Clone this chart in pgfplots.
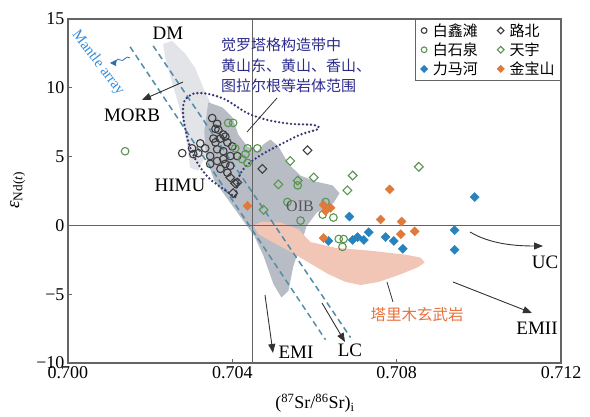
\documentclass[border=0pt]{standalone}
\usepackage{pgfplots}
\pgfplotsset{compat=1.18}
\usepackage{fontspec}
\setmainfont{Liberation Serif}
\newfontfamily\cjk{Noto Sans CJK SC}
\usetikzlibrary{arrows.meta}
\definecolor{axgray}{RGB}{100,100,100}
\definecolor{lgfield}{RGB}{226,228,232}
\definecolor{dgfield}{RGB}{184,188,197}
\definecolor{pinkf}{RGB}{242,198,182}
\definecolor{navy}{RGB}{43,43,140}
\definecolor{dotc}{RGB}{55,55,120}
\definecolor{dashc}{RGB}{82,140,168}
\definecolor{ptblue}{RGB}{40,130,190}
\definecolor{ptorange}{RGB}{224,122,58}
\definecolor{ptgreen}{RGB}{88,150,78}
\definecolor{ptblack}{RGB}{60,60,60}
\definecolor{mantlec}{RGB}{50,140,220}
\definecolor{tarimc}{RGB}{232,112,60}
\definecolor{arrc}{RGB}{50,50,50}
\begin{document}
\begin{tikzpicture}
\useasboundingbox (0,0) rectangle (590pt,417pt);
\begin{axis}[name=ax, at={(68pt,54pt)}, anchor=south west,
  scale only axis, width=493pt, height=344pt,
  xmin=0.700, xmax=0.712, ymin=-10, ymax=15,
  xtick={0.700,0.704,0.708,0.712}, xticklabels={0.700,0.704,0.708,0.712},
  ytick={-10,-5,0,5,10,15}, yticklabels={−10,−5,0,5,10,15},
  tick align=inside, tick pos=left, major tick length=4pt,
  tick style={draw=axgray, line width=0.8pt},
  axis line style={draw=axgray, line width=1.1pt},
  ticklabel style={font=\fontsize{18}{20}\selectfont},
  clip=false,
  xlabel={(\textsuperscript{87}Sr/\textsuperscript{86}Sr)\textsubscript{i}},
  ylabel={\textit{ε}\textsubscript{Nd(\textit{t})}},
  xlabel style={at={(axis description cs:0.501,-0.118)}, anchor=center, font=\fontsize{18}{20}\selectfont},
  ylabel style={at={(axis description cs:-0.102,0.503)}, anchor=center, font=\fontsize{19}{20}\selectfont},
  legend columns=2,
  legend cell align=left,
  legend style={at={(1,1)}, anchor=north east, draw=axgray, line width=0.9pt, fill=white,
    font=\cjk\fontsize{15}{16}\selectfont, row sep=1pt, inner xsep=4pt, inner ysep=2pt,
    /tikz/every even column/.append style={column sep=16pt}},
  legend image code/.code={\path (-0.05cm,0cm) (0.32cm,0cm);\draw[#1,/tikz/every mark/.append style={scale=0.75}] plot coordinates {(0.1cm,0cm)};},
]
% fields
\addplot[fill=lgfield, draw=none, forget plot] coordinates {
(0.702317,13.19) (0.702537,13.40) (0.702854,12.48) (0.703098,11.42) (0.703293,10.0) (0.703463,8.94) (0.703585,7.16) (0.703341,5.04) (0.703171,3.97) (0.702976,4.18) (0.702902,5.74) (0.702780,7.87) (0.702537,10.35) (0.702366,12.13)} -- cycle;
\addplot[fill=dgfield, draw=none, forget plot] coordinates {
(0.703415,8.94) (0.703756,8.58) (0.704000,7.87) (0.704146,6.60) (0.704366,5.74) (0.704610,5.39) (0.704756,5.89) (0.704927,6.24) (0.705122,5.74) (0.705366,4.47) (0.705659,3.62) (0.706024,3.19) (0.706439,2.91) (0.706610,2.34) (0.706463,1.63) (0.706049,0.92) (0.705805,-0.07) (0.705659,-1.49) (0.705488,-2.91) (0.705366,-4.75) (0.705195,-5.24) (0.705000,-4.26) (0.704756,-2.20) (0.704537,-0.78) (0.704244,0.43) (0.703902,1.84) (0.703561,3.26) (0.703366,4.89) (0.703317,6.81)} -- cycle;
\addplot[fill=pinkf, draw=none, forget plot] coordinates {
(0.704512,0) (0.704732,0.28) (0.705171,0.21) (0.705610,-0.28) (0.705902,-1.21) (0.706512,-1.63) (0.707366,-1.84) (0.708220,-2.13) (0.708585,-2.34) (0.708683,-2.70) (0.708512,-3.05) (0.708098,-3.55) (0.707561,-4.11) (0.707122,-4.33) (0.706756,-4.11) (0.706341,-3.55) (0.705902,-2.77) (0.705415,-1.91) (0.704976,-1.21) (0.704634,-0.64)} -- cycle;
% reference lines
\addplot[draw=axgray, line width=1pt, forget plot] coordinates {(0.7045,-10) (0.7045,15)};
\addplot[draw=axgray, line width=1pt, forget plot] coordinates {(0.700,0) (0.712,0)};
% mantle array
\addplot[draw=dashc, line width=1.5pt, dash pattern=on 6pt off 4pt, forget plot] coordinates {(0.701512,12.98) (0.706268,-8.31)};
\addplot[draw=dashc, line width=1.5pt, dash pattern=on 6pt off 4pt, forget plot] coordinates {(0.702073,13.05) (0.706878,-8.15)};
% dotted field
\addplot[draw=dotc, line width=2.6pt, dash pattern=on 0pt off 4pt, line cap=round, smooth, tension=0.5, forget plot] coordinates {
(0.704073,2.06) (0.703756,2.70) (0.703415,3.48) (0.703122,4.68) (0.702927,6.10) (0.702805,7.87) (0.702829,9.01) (0.703049,9.57) (0.703390,9.57) (0.703829,9.15) (0.704366,8.16) (0.704854,7.66) (0.705415,7.38) (0.705976,7.30) (0.706098,7.02) (0.705659,6.60) (0.705220,5.96) (0.704732,5.18) (0.704390,4.47) (0.704195,3.76) (0.704122,2.91) (0.704073,2.06)};
% data
\addplot[only marks, mark=o, mark size=3.8pt, color=ptblack, line width=1.1pt] coordinates {
(0.70351,7.80) (0.70363,7.38) (0.70366,6.95) (0.70354,6.31) (0.70371,6.31) (0.70383,6.45) (0.70388,6.03) (0.70322,5.96) (0.70334,5.60) (0.70302,5.60) (0.70278,5.25) (0.70305,5.18) (0.70317,5.25) (0.70346,5.04) (0.70363,5.53) (0.70378,5.39) (0.70395,5.04) (0.70378,4.82) (0.70363,4.68) (0.70383,4.47) (0.70395,4.33) (0.70412,5.04) (0.70371,4.11) (0.70388,3.83) (0.70359,7.02) (0.70378,6.60) (0.70359,6.03) (0.70346,4.47) (0.70400,5.74)};
\addlegendentry{白鑫滩}
\addplot[only marks, mark=square, mark options={rotate=45}, mark size=3.1pt, color=ptblack, line width=1.1pt] coordinates {
(0.70583,5.46) (0.70473,4.11) (0.70407,3.05) (0.70402,2.34) (0.70395,3.48) (0.70412,3.12)};
\addlegendentry{路北}
\addplot[only marks, mark=o, mark size=3.8pt, color=ptgreen, line width=1.1pt] coordinates {
(0.70139,5.39) (0.70390,7.45) (0.70402,7.45) (0.70407,5.60) (0.70437,5.60) (0.70461,5.60) (0.70432,5.18) (0.70437,4.54) (0.70424,4.82) (0.70534,1.70) (0.70559,2.91) (0.70646,0.57) (0.70620,0.78) (0.70627,1.70) (0.70671,-0.99) (0.70668,-1.56) (0.70659,-0.99) (0.70566,0.35)};
\addlegendentry{白石泉}
\addplot[only marks, mark=square, mark options={rotate=45}, mark size=3.1pt, color=ptgreen, line width=1.1pt] coordinates {
(0.70854,4.26) (0.70693,3.62) (0.70680,2.55) (0.70598,3.48) (0.70559,3.26) (0.70512,2.98) (0.70541,4.68) (0.70476,1.13)};
\addlegendentry{天宇}
\addplot[only marks, mark=square*, mark options={rotate=45}, mark size=3.2pt, color=ptblue, draw=none] coordinates {
(0.70634,-1.13) (0.70693,-1.06) (0.70705,-0.85) (0.70720,-1.06) (0.70732,-0.50) (0.70773,-0.85) (0.70793,-1.13) (0.70815,-1.70) (0.70941,-0.35) (0.70941,-1.77) (0.70990,2.06) (0.70685,0.64)};
\addlegendentry{力马河}
\addplot[only marks, mark=square*, mark options={rotate=45}, mark size=3.2pt, color=ptorange, draw=none] coordinates {
(0.70783,2.62) (0.70761,0.43) (0.70812,0.28) (0.70844,-0.43) (0.70810,-0.64) (0.70622,-0.92) (0.70622,1.49) (0.70639,1.28) (0.70627,1.06) (0.70437,1.42)};
\addlegendentry{金宝山}
\end{axis}
\begin{scope}[x=1pt,y=-1pt,yshift=417pt]
\tikzset{lab/.style={font=\fontsize{19}{20}\selectfont, inner sep=0pt},
  arr/.style={draw=arrc, line width=0.9pt, -{Triangle[length=9pt,width=7pt]}},
  cn/.style={font=\cjk\fontsize{15}{16}\selectfont, text=navy, anchor=west, inner sep=0pt}}
\node[lab] at (168,33) {DM};
\node[lab] at (132,115) {MORB};
\node[lab] at (180,185) {HIMU};
\node[lab] at (296,352) {EMI};
\node[lab] at (350,350) {LC};
\node[lab] at (545,262) {UC};
\node[lab] at (537,328) {EMII};
\node[font=\fontsize{16}{17}\selectfont, text={rgb,255:red,85;green,85;blue,85}, inner sep=0pt] at (300,206) {OIB};
\node[font=\cjk\fontsize{15.5}{16}\selectfont, text=tarimc, inner sep=0pt] at (417,315) {塔里木玄武岩};
\node[font=\fontsize{15}{16}\selectfont, text=mantlec, rotate=-53, inner sep=0pt] at (98,63) {Mantle array};
\node[cn] at (221,45) {觉罗塔格构造带中};
\node[cn] at (221,65.5) {黄山东、黄山、香山、};
\node[cn] at (221,86) {图拉尔根等岩体范围};
\draw[arr] (183,82) -- (142,100);
\draw[draw=mantlec!80!black, line width=0.8pt, -{Triangle[length=6pt,width=6pt]}] (130,58) .. controls (126,54) and (124,63) .. (120,60) .. controls (117,57) and (115,63) .. (110,63);
\draw[arr] (265,295) -- (273,353);
\draw[arr] (322,303) -- (345,342);
\draw[arr] (470,232) .. controls (490,244) and (515,246) .. (543,246);
\draw[arr] (453,282) -- (532,313);
\draw[draw=arrc, line width=0.8pt] (277,98) -- (247,132);
\draw[draw=arrc, line width=0.8pt] (387,282) -- (393,302);
\end{scope}
\end{tikzpicture}
\end{document}
